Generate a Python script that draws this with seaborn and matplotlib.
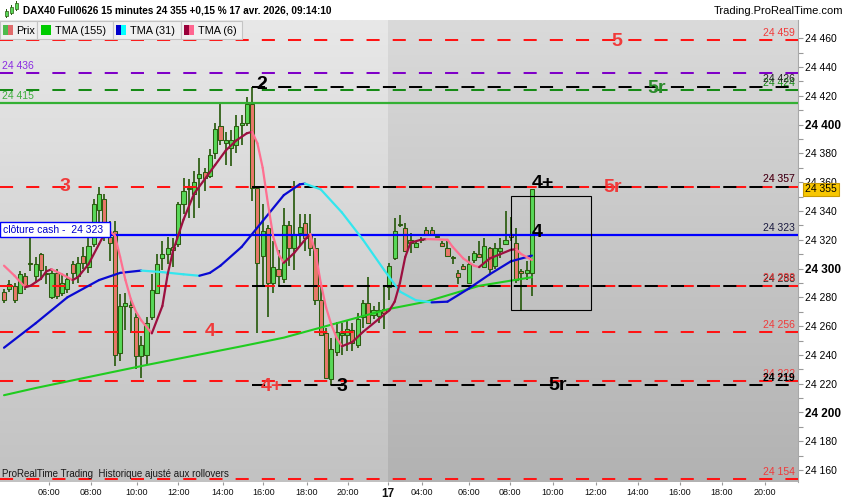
import numpy as np
import pandas as pd
import matplotlib
matplotlib.use("Agg")
import matplotlib.pyplot as plt
import seaborn as sns
from matplotlib.collections import LineCollection
from matplotlib.patches import Rectangle
from matplotlib.colors import to_rgb
import matplotlib.transforms as mtrans

# ---------------- data (15-minute candles, DAX40 Full0626) ----------------
opens = [24284, 24286, 24288, 24283, 24295, 24304, 24295, 24310, 24296, 24280,
         24297, 24283, 24286, 24303, 24295, 24309, 24301, 24317, 24341, 24348,
         24322, 24326, 24241, 24274, 24275, 24266, 24239, 24240, 24266, 24283,
         24307, 24310, 24315, 24317, 24345, 24355, 24352, 24363, 24367, 24364,
         24380, 24399, 24387, 24384, 24386, 24400, 24401, 24414, 24356, 24309,
         24328, 24290, 24300, 24293, 24330, 24314, 24325, 24332, 24324, 24314,
         24278, 24255, 24223, 24242, 24254, 24254, 24257, 24247, 24266, 24276,
         24268, 24267, 24272, 24287, 24307, 24331, 24328, 24320, 24315, 24320,
         24327, 24327, 24322, 24318, 24314, 24307, 24297, 24302, 24290, 24306,
         24310, 24301, 24314, 24302, 24312, 24317, 24324, 24318, 24298, 24297,
         24297]
highs = [24286, 24292, 24290, 24298, 24297, 24323, 24308, 24311, 24302, 24299,
         24300, 24296, 24297, 24305, 24308, 24315, 24323, 24348, 24357, 24352,
         24333, 24333, 24282, 24283, 24278, 24269, 24253, 24266, 24296, 24310,
         24319, 24322, 24321, 24346, 24363, 24362, 24368, 24377, 24370, 24383,
         24401, 24415, 24395, 24396, 24407, 24407, 24419, 24426, 24356, 24345,
         24330, 24319, 24313, 24342, 24333, 24361, 24338, 24338, 24338, 24321,
         24287, 24259, 24252, 24263, 24262, 24264, 24262, 24269, 24278, 24294,
         24274, 24277, 24287, 24304, 24335, 24337, 24332, 24325, 24319, 24322,
         24329, 24329, 24323, 24319, 24319, 24309, 24299, 24303, 24309, 24312,
         24319, 24321, 24315, 24318, 24321, 24340, 24336, 24328, 24300, 24305,
         24355]
lows = [24276, 24284, 24276, 24282, 24285, 24298, 24290, 24292, 24289, 24279,
        24279, 24281, 24283, 24289, 24290, 24300, 24297, 24315, 24332, 24319,
        24305, 24232, 24236, 24257, 24255, 24230, 24224, 24234, 24264, 24283,
        24299, 24303, 24301, 24315, 24338, 24335, 24335, 24342, 24354, 24363,
        24376, 24386, 24372, 24371, 24380, 24386, 24399, 24347, 24255, 24287,
        24266, 24283, 24288, 24290, 24302, 24299, 24316, 24312, 24309, 24275,
        24253, 24223, 24219, 24239, 24240, 24243, 24243, 24245, 24259, 24262,
        24265, 24262, 24258, 24278, 24306, 24329, 24312, 24311, 24314, 24318,
        24323, 24323, 24321, 24315, 24308, 24303, 24289, 24299, 24290, 24304,
        24307, 24301, 24297, 24300, 24307, 24317, 24319, 24290, 24271, 24292,
        24281]
closes = [24278, 24289, 24278, 24296, 24288, 24303, 24303, 24299, 24297, 24297,
          24281, 24290, 24293, 24297, 24304, 24304, 24316, 24345, 24352, 24322,
          24318, 24240, 24274, 24276, 24273, 24239, 24247, 24262, 24285, 24303,
          24310, 24314, 24313, 24345, 24354, 24356, 24360, 24366, 24363, 24379,
          24397, 24389, 24389, 24389, 24399, 24401, 24414, 24356, 24304, 24326,
          24290, 24301, 24295, 24330, 24314, 24324, 24329, 24321, 24314, 24278,
          24254, 24224, 24244, 24256, 24255, 24258, 24248, 24265, 24276, 24262,
          24271, 24271, 24269, 24302, 24326, 24330, 24312, 24318, 24318, 24320,
          24324, 24324, 24322, 24316, 24309, 24307, 24294, 24300, 24303, 24311,
          24308, 24316, 24300, 24314, 24314, 24320, 24322, 24292, 24297, 24299,
          24355]

# TMA readings (bar index -> value)
tma155_idx = [0, 6, 27, 45, 53, 67, 73, 80, 90, 100]
tma155_val = [24212, 24217, 24233, 24246, 24252, 24266, 24272, 24277, 24288, 24294]

tma31_idx = [0, 6, 12, 18, 22, 26, 30, 34, 37, 39, 41, 45, 49, 53, 56, 57,
             60, 64, 68, 72, 75, 78, 81, 84, 88, 92, 96, 100]
tma31_val = [24245, 24262, 24280, 24292, 24297, 24298.6, 24297.5, 24296, 24295,
             24297, 24302, 24315, 24333, 24351, 24358.5, 24359, 24355, 24339,
             24320, 24299, 24284, 24278, 24276.5, 24277, 24286, 24296, 24305, 24309]

tma6_idx = [0, 2, 4, 5, 7, 8, 9, 11, 13, 14, 16, 18, 19, 20, 21, 22, 23, 24,
            25, 26, 28, 30, 31, 32, 34, 36, 38, 40, 42, 44, 46, 47, 48, 49,
            50, 51, 52, 53, 55, 57, 58, 59, 60, 61, 62, 63, 64, 66, 68, 71,
            73, 74, 75, 76, 77, 79, 80, 84, 85, 87, 89, 90, 92, 94, 96, 97,
            98, 100]
tma6_val = [24302, 24295, 24287, 24288, 24293, 24298, 24299.5, 24296, 24292,
            24294, 24303, 24317, 24324, 24326, 24323, 24308, 24292, 24279,
            24270, 24264, 24255, 24274, 24296, 24312, 24334, 24352, 24362,
            24372, 24382, 24389, 24394, 24395, 24387, 24370, 24345, 24322,
            24310, 24304, 24311, 24320, 24324, 24311, 24290, 24273, 24261,
            24252, 24246, 24249, 24256, 24265, 24271, 24277, 24290, 24308,
            24318, 24320, 24320.5, 24320, 24315, 24307, 24302, 24301, 24307,
            24310, 24313, 24313.5, 24310, 24306]

# horizontal levels
red_levels = [24459, 24357, 24288, 24256, 24222, 24154]
purple_level = 24436
green_dash_level = 24424
green_solid_level = 24415
cash_close_level = 24323
black_levels = [24426, 24357, 24288, 24219]
black_from_bar = 47
last_price = 24355

# level annotations: (text, level, colour)
level_marks = [("5", 24459, "red"), ("5r", 24424, "green"), ("2", 24426, "black"),
               ("3", 24357, "red"), ("4+", 24357, "black"), ("5r", 24357, "red"),
               ("4", 24323, "black"), ("4", 24256, "red"), ("4+", 24222, "red"),
               ("3", 24219, "black"), ("5r", 24219, "black")]

# time axis labels
time_labels = ["06:00", "08:00", "10:00", "12:00", "14:00", "16:00", "18:00", "20:00",
               "17", "04:00", "06:00", "08:00", "10:00", "12:00", "14:00", "16:00",
               "18:00", "20:00"]

# ---------------- styling ----------------
sns.set_theme(style="white")
plt.rcParams['font.family'] = ['Liberation Sans', 'DejaVu Sans']

RED = "#ff1414"
RED_TXT = "#f03a3a"
PURPLE = "#7f00c8"
GREEN_D = "#168a16"
GREEN_S = "#33b033"
BLUE = "#0000ff"

W, H = 850, 500
fig = plt.figure(figsize=(8.5, 5), dpi=100)
fig.patch.set_facecolor("white")
ax = fig.add_axes([0, 18 / H, 798 / W, 462 / H])

xlo, xhi = -0.76, 150.4
ylo, yhi = 24151.7, 24472.7
split = 72.8


def vgrad(top, bottom, n=256):
    t = np.linspace(0, 1, n)[:, None]
    a = np.array(to_rgb(top)); b = np.array(to_rgb(bottom))
    return (a * (1 - t) + b * t)[:, None, :]


ax.imshow(vgrad("#e8e8e8", "#c2c2c2"), extent=[xlo, split, ylo, yhi],
          aspect="auto", zorder=0, interpolation="bilinear")
ax.imshow(vgrad("#dadada", "#b2b2b2"), extent=[split, xhi, ylo, yhi],
          aspect="auto", zorder=0, interpolation="bilinear")

# candles
df = pd.DataFrame({"o": opens, "h": highs, "l": lows, "c": closes})
df["i"] = np.arange(len(df))
up = df["c"] >= df["o"]
OUT = "#2b5c10"
ax.vlines(df["i"], df["l"], df["h"], color=OUT, lw=1.25, zorder=3)
body_bot = np.minimum(df["o"], df["c"])
body_h = np.maximum((df["c"] - df["o"]).abs(), 0.7)
ax.bar(df["i"], body_h, bottom=body_bot, width=0.78,
       color=np.where(up, "#58d858", "#e8786a"), edgecolor=OUT, linewidth=0.75, zorder=4)

# horizontal levels
dash = (0, (6.5, 6.5))
for lv in red_levels:
    ax.axhline(lv, color=RED, lw=1.45, linestyle=dash, zorder=5)
ax.axhline(purple_level, color=PURPLE, lw=1.45, linestyle=dash, zorder=5)
ax.axhline(green_dash_level, color=GREEN_D, lw=1.45, linestyle=dash, zorder=5)
ax.axhline(green_solid_level, color=GREEN_S, lw=1.6, zorder=5)
ax.axhline(cash_close_level, color=BLUE, lw=1.6, zorder=6)
for lv in black_levels:
    ax.plot([black_from_bar, xhi], [lv, lv], color="black", lw=1.45, linestyle=dash, zorder=5.5)


# TMA lines
def slope_line(xs, ys, up_c, dn_c, lw, z):
    pts = np.column_stack([xs, ys]).astype(float)
    segs = np.stack([pts[:-1], pts[1:]], axis=1)
    cols = [up_c if b >= a else dn_c for a, b in zip(ys[:-1], ys[1:])]
    ax.add_collection(LineCollection(segs, colors=cols, linewidths=lw, zorder=z,
                                     capstyle="round", joinstyle="round"))


sns.lineplot(x=tma155_idx, y=tma155_val, ax=ax, color="#1fcc1f", lw=1.5, zorder=7,
             sort=True, estimator=None)
slope_line(tma31_idx, tma31_val, "#0a0ad2", "#33e6ee", 1.6, 7)
slope_line(tma6_idx, tma6_val, "#9c1040", "#ff6f90", 1.6, 7.5)

# rectangle around last bars
ax.add_patch(Rectangle((96.1, 24271.2), 15.0, 79.4, fill=False, ec="black", lw=0.8, zorder=8))

# right-side value labels
def rlabel(txt, lv, col, dy=0, bold=False):
    ax.annotate(txt, (149.8, lv), xytext=(0, 1.5 + dy), textcoords="offset points",
                ha="right", va="bottom", fontsize=7.5, color=col,
                fontweight="bold" if bold else "normal", zorder=9)


def fmt(v):
    return f"{v:,}".replace(",", " ")


rlabel(fmt(24459), 24459, RED_TXT)
rlabel(fmt(24424), 24424, GREEN_D)
rlabel(fmt(24426), 24426, "#222222", dy=1)
rlabel(fmt(24357), 24357, RED_TXT, dy=0.5)
rlabel(fmt(24357), 24357, "#301830")
rlabel(fmt(24323), 24323, "#1a1a40")
rlabel(fmt(24288), 24288, "#222222")
rlabel(fmt(24288), 24288, RED_TXT, dy=0.7)
rlabel(fmt(24256), 24256, RED_TXT)
rlabel(fmt(24222), 24222, RED_TXT)
rlabel(fmt(24219), 24219, "black", bold=True)
rlabel(fmt(24154), 24154, RED_TXT)

# left labels
ax.annotate(fmt(purple_level), (xlo + 0.3, purple_level), xytext=(0, 1.5),
            textcoords="offset points", ha="left", va="bottom", fontsize=7.5,
            color="#8a2be2", zorder=9)
ax.annotate(fmt(green_solid_level), (xlo + 0.3, green_solid_level), xytext=(0, 1.5),
            textcoords="offset points", ha="left", va="bottom", fontsize=7.5,
            color="#3cae3c", zorder=9)

# big level marks
mark_x = [116.1, 123.7, 48.9, 11.6, 102.1, 115.2, 101.0, 39.0, 50.8, 64.0, 104.9]
mark_dy = [-1, 1, 2, 0, 2, -0.5, 2, 0, -4, -1, -0.5]
colmap = {"red": RED_TXT, "green": "#2a8a2a", "black": "black"}
for (txt, lv, c), mx, mdy in zip(level_marks, mark_x, mark_dy):
    ax.annotate(txt, (mx, lv), xytext=(0, mdy), textcoords="offset points",
                ha="center", va="center", fontsize=14, fontweight="bold",
                color=colmap[c], zorder=9)

# cash close box
ax.add_patch(Rectangle((xlo, cash_close_level - 1.2), 110 / 5.28, 10.4,
                       fc="white", ec=BLUE, lw=1.0, zorder=8.5))
ax.text(xlo + 3 / 5.28, cash_close_level - 1.2 + 5.2, "clôture cash -  " + fmt(cash_close_level),
        ha="left", va="center", fontsize=7.5, color="#0000cc", zorder=9)

# bottom note
ax.text(xlo + 0.3, 24157.5, "ProRealTime Trading  Historique ajusté aux rollovers",
        ha="left", va="center", fontsize=7, color="#1a1a1a", zorder=9)

# axes
ax.set_xlim(xlo, xhi)
ax.set_ylim(ylo, yhi)
for s in ["left", "top", "bottom"]:
    ax.spines[s].set_visible(False)
ax.spines["right"].set_color("#a8a8a8")
ax.spines["right"].set_linewidth(0.8)

ax.yaxis.tick_right()
yt = np.arange(24160, 24461, 20)
ax.set_yticks(yt)
ax.set_yticks(np.arange(24160, 24470, 10), minor=True)
ax.set_yticklabels([fmt(v) for v in yt])
ax.tick_params(axis="y", which="both", length=3.5, width=0.8, color="#999999",
               pad=1.5, labelsize=7.5, labelcolor="black", right=True, left=False)
for lab, v in zip(ax.get_yticklabels(), yt):
    if v % 100 == 0:
        lab.set_fontweight("bold")
        lab.set_fontsize(8.5)

tick_pos = [8.5, 16.5, 25.2, 33.0, 41.4, 49.1, 57.4, 65.2, 72.7, 79.2, 88.1, 95.8,
            104.0, 112.1, 120.1, 128.0, 136.0, 144.1]
ax.set_xticks(tick_pos)
ax.set_xticklabels(time_labels)
ax.tick_params(axis="x", length=2.5, width=0.8, color="#999999", pad=1.5,
               labelsize=6.5, labelcolor="#111111", bottom=True)
for lab in ax.get_xticklabels():
    if lab.get_text() == "17":
        lab.set_fontweight("bold")
        lab.set_fontsize(8.5)
ax.set_xlabel("")
ax.set_ylabel("")
ax.grid(False)

# current price tag
ax.text(1.0 + 7 / 798, last_price, fmt(last_price), transform=mtrans.blended_transform_factory(ax.transAxes, ax.transData),
        ha="left", va="center", fontsize=7.5, color="black", zorder=12, clip_on=False,
        bbox=dict(boxstyle="square,pad=0.18", fc="#f7c600", ec="#c99a00", lw=0.8))

# ---------------- header (figure coords in px) ----------------
def fr(x, y, w, h, **kw):
    fig.patches.append(Rectangle((x / W, 1 - (y + h) / H), w / W, h / H,
                                 transform=fig.transFigure, figure=fig, **kw))


def ft(x, y, s, **kw):
    fig.text(x / W, 1 - y / H, s, **kw)


# small candle icon
for cx, top, bot in [(5, 11, 16), (10, 7, 13), (15, 3, 9)]:
    fr(cx + 1.2, top - 2, 0.8, bot - top + 4, fc=OUT, ec="none", zorder=5)
    fr(cx, top, 3, bot - top, fc="#58d858", ec=OUT, lw=0.5, zorder=6)

ft(23, 10.5, "DAX40 Full0626 15 minutes 24 355 +0,15 % 17 avr. 2026, 09:14:10",
   ha="left", va="center", fontsize=7.2, fontweight="bold", color="black")
ft(843, 10.5, "Trading.ProRealTime.com", ha="right", va="center", fontsize=8, color="black")

tabs = [(0, 37), (37, 76), (113, 68), (181, 61)]
for x0, w in tabs:
    fr(x0, 21, w, 18, fc="#f0f0f0", ec="#c4c4c4", lw=0.8, zorder=4)
# swatches
fr(3, 25, 5, 10, fc="#4cbb4c", ec="none", zorder=5)
fr(8, 25, 5, 10, fc="#e06b6b", ec="none", zorder=5)
fr(41, 25, 10, 10, fc="#00cc00", ec="none", zorder=5)
fr(116, 25, 5, 10, fc="#0000cc", ec="none", zorder=5)
fr(121, 25, 5, 10, fc="#00ffff", ec="none", zorder=5)
fr(184, 25, 5, 10, fc="#99003a", ec="none", zorder=5)
fr(189, 25, 5, 10, fc="#ff6690", ec="none", zorder=5)
for x0, s in [(16, "Prix"), (55, "TMA (155)"), (130, "TMA (31)"), (198, "TMA (6)")]:
    ft(x0, 30.5, s, ha="left", va="center", fontsize=7.8, color="black", zorder=6)

fig.savefig("out.png", dpi=100)
